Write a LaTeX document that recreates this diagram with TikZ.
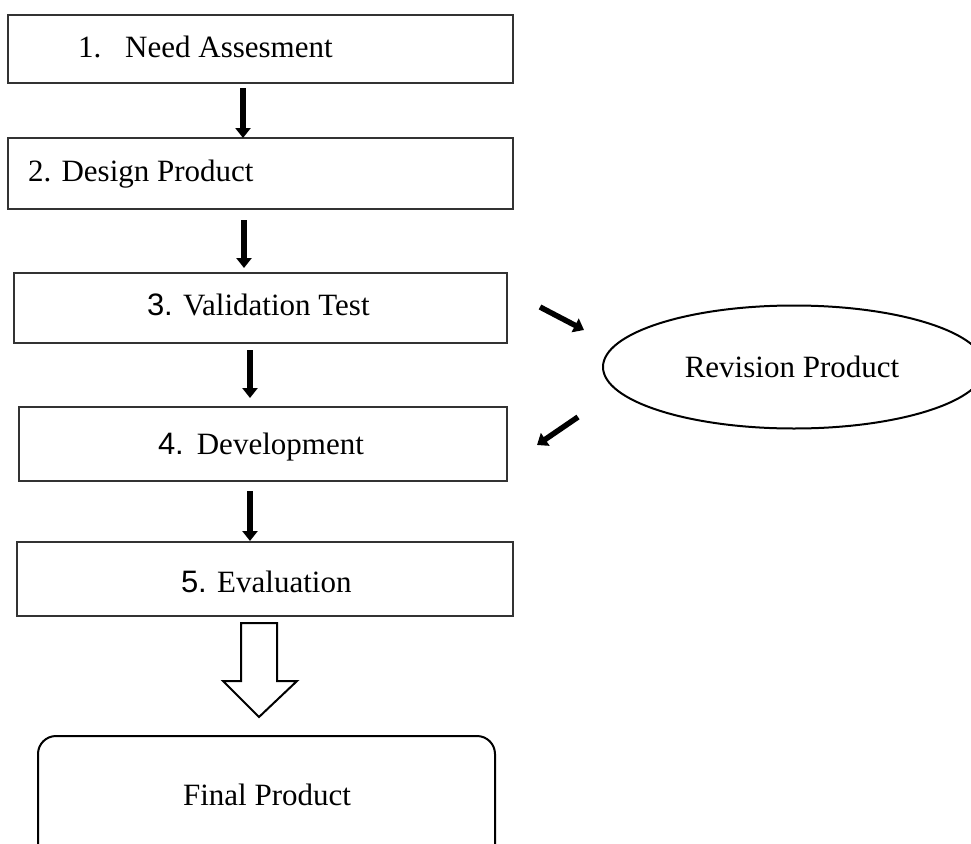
\documentclass[tikz,border=0pt]{standalone}
\usepackage{fontspec}
\setmainfont{Liberation Serif}
\newfontfamily\arialfont{Liberation Sans}
\usetikzlibrary{shapes.geometric,arrows.meta}
\begin{document}
\begin{tikzpicture}[x=1pt,y=-1pt,
  box/.style={draw=black!80,line width=1.3pt,inner sep=0pt,outer sep=0pt},
  txt/.style={inner sep=0pt,outer sep=0pt,anchor=base west,font=\fontsize{31}{36}\selectfont},
  blk/.style={line width=5.5pt,-{Triangle[width=15pt,length=10pt]}},
  heavy/.style={draw=black,line width=2pt}]
\useasboundingbox (0,0) rectangle (971,843);
\clip (0,0) rectangle (971,843);
\fill[white] (0,0) rectangle (971,843);
% boxes
\node[box,minimum width=505pt,minimum height=68pt] (b1) at (260.5,49) {};
\node[box,minimum width=505pt,minimum height=71pt] (b2) at (260.5,173.5) {};
\node[box,minimum width=493pt,minimum height=70pt] (b3) at (260.5,308) {};
\node[box,minimum width=488pt,minimum height=74pt] (b4) at (263,444) {};
\node[box,minimum width=496pt,minimum height=74pt] (b5) at (265,579) {};
% texts
\node[txt] (t1) at (78,57) {1.\hspace{24pt}Need Assesment};
\node[txt] (t2) at (28,181) {2. Design Product};
\node[txt] (t3) at (147,315) {{\arialfont 3.} Validation Test};
\node[txt] (t4) at (158,454) {{\arialfont 4.}\hspace{13pt}Development};
\node[txt] (t5) at (181,592) {{\arialfont 5.} Evaluation};
% revision ellipse
\node[heavy,ellipse,minimum width=382pt,minimum height=123pt,inner sep=0pt] (rev) at (794,367) {};
\node[txt,anchor=base] (trev) at (792,377) {Revision Product};
% final product
\node[heavy,rounded corners=18pt,minimum width=457pt,minimum height=134pt,inner sep=0pt] (fin) at (266.5,803) {};
\node[txt,anchor=base] (tfin) at (267,805) {Final Product};
% vertical arrows
\coordinate (c1) at (243,0);
\coordinate (c2) at (244,0);
\coordinate (c3) at (250,0);
\draw[blk,shorten <=5pt] (b1.south -| c1) -- (b2.north -| c1);
\draw[blk,shorten <=11pt,shorten >=5pt] (b2.south -| c2) -- (b3.north -| c2);
\draw[blk,shorten <=7pt,shorten >=9pt] (b3.south -| c3) -- (b4.north -| c3);
\draw[blk,shorten <=10pt,shorten >=1pt] (b4.south -| c3) -- (b5.north -| c3);
% diagonal arrows
\coordinate (d1s) at (540,307);
\coordinate (d1e) at (584,330);
\coordinate (d2s) at (578,417);
\coordinate (d2e) at (537,445);
\draw[blk] (d1s) -- (d1e);
\draw[blk] (d2s) -- (d2e);
% hollow arrow
\draw[heavy,line join=miter,fill=white] (241,623) -- (277,623) -- (277,681) -- (297,681)
  -- (259,717) -- (223,681) -- (241,681) -- cycle;
\end{tikzpicture}
\end{document}
